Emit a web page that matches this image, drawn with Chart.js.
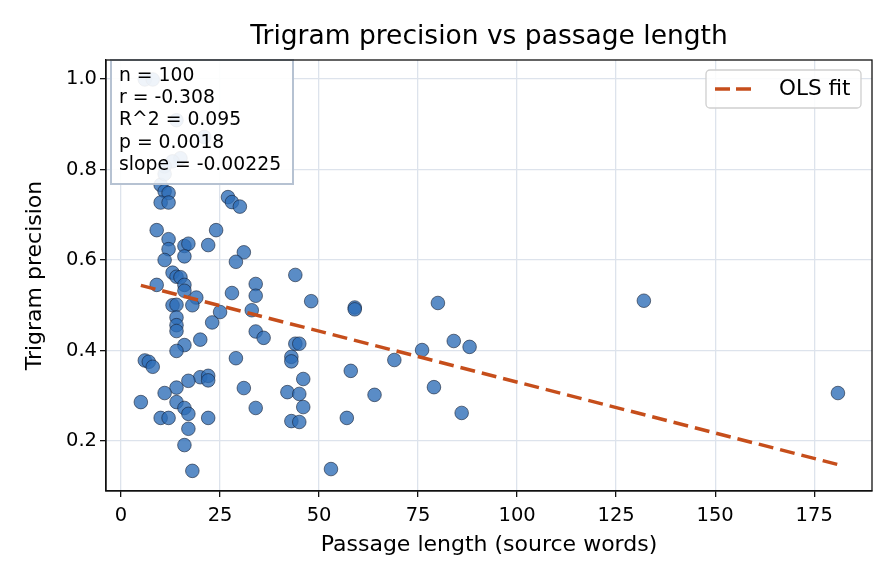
<!DOCTYPE html>
<html>
<head>
<meta charset="utf-8">
<script src="https://cdn.jsdelivr.net/npm/chart.js@4/dist/chart.umd.min.js"></script>
<style>
  html, body { margin: 0; padding: 0; background: #fff; }
  #wrap { width: 896px; height: 584px; }
</style>
</head>
<body>
<div id="wrap"><canvas id="chart" width="896" height="584"></canvas></div>
<script>
// Passage length (source words) for each passage
const lengths = [
  6, 8, 14, 21, 15, 13, 11, 10, 11, 12,
  10, 12, 27, 28, 30, 9, 12, 12, 16, 17,
  16, 22, 24, 11, 31, 29, 13, 14, 15, 9,
  16, 16, 19, 13, 14, 18, 25, 28, 34, 34,
  33, 44, 14, 14, 14, 23, 34, 36, 20, 16,
  14, 6, 7, 8, 29, 44, 45, 43, 43, 46,
  20, 22, 22, 17, 14, 11, 31, 5, 14, 16,
  17, 10, 12, 22, 17, 34, 42, 45, 46, 43,
  45, 16, 18, 48, 59, 59, 80, 58, 64, 57,
  53, 69, 76, 84, 88, 79, 86, 132, 181, 11
];

// Trigram precision for each passage
const precisions = [
  0.999, 0.999, 0.909, 0.872, 0.825, 0.818, 0.807, 0.766, 0.752, 0.748,
  0.727, 0.727, 0.739, 0.728, 0.718, 0.666, 0.646, 0.624, 0.631, 0.636,
  0.608, 0.633, 0.666, 0.600, 0.617, 0.596, 0.572, 0.563, 0.562, 0.545,
  0.545, 0.532, 0.517, 0.500, 0.501, 0.500, 0.485, 0.527, 0.547, 0.521,
  0.489, 0.567, 0.473, 0.456, 0.443, 0.462, 0.442, 0.428, 0.424, 0.412,
  0.399, 0.378, 0.375, 0.364, 0.383, 0.415, 0.415, 0.386, 0.376, 0.337,
  0.341, 0.344, 0.334, 0.333, 0.318, 0.306, 0.317, 0.286, 0.286, 0.273,
  0.260, 0.251, 0.251, 0.251, 0.227, 0.273, 0.308, 0.304, 0.275, 0.244,
  0.242, 0.191, 0.134, 0.509, 0.495, 0.491, 0.505, 0.355, 0.302, 0.251,
  0.138, 0.379, 0.401, 0.421, 0.408, 0.319, 0.262, 0.510, 0.306, 0.790
];

// OLS fit line end points
const fitX = [5, 181];
const fitY = [0.544, 0.148];

const xTicks = [0, 25, 50, 75, 100, 125, 150, 175];
const yTicks = [0.2, 0.4, 0.6, 0.8, 1.0];

const chartTitle = 'Trigram precision vs passage length';
const statLines = ['n = 100', 'r = -0.308', 'R^2 = 0.095', 'p = 0.0018', 'slope = -0.00225'];
const legendLabel = 'OLS fit';

const FONT = "'DejaVu Sans', sans-serif";
const fitColor = '#c64e1b';

const points = lengths.map((x, i) => ({ x: x, y: precisions[i] }));
const fitPoints = fitX.map((x, i) => ({ x: x, y: fitY[i] }));

// white background, title over the plot area, top/right spines
const framePlugin = {
  id: 'frame',
  beforeDraw(chart) {
    const ctx = chart.ctx;
    ctx.save();
    ctx.fillStyle = '#fff';
    ctx.fillRect(0, 0, chart.width, chart.height);
    ctx.restore();
  },
  afterDraw(chart) {
    const a = chart.chartArea;
    const ctx = chart.ctx;
    ctx.save();
    ctx.strokeStyle = '#111';
    ctx.lineWidth = 1.3;
    ctx.strokeRect(a.left, a.top, a.right - a.left, a.bottom - a.top);
    ctx.fillStyle = '#000';
    ctx.font = '26.5px ' + FONT;
    ctx.textAlign = 'center';
    ctx.textBaseline = 'middle';
    ctx.fillText(chartTitle, (a.left + a.right) / 2, 37);
    ctx.restore();
  }
};

// stats box and legend on top of the marks
const overlayPlugin = {
  id: 'overlay',
  afterDatasetsDraw(chart) {
    const ctx = chart.ctx;
    ctx.save();

    // stats box
    const bx = 111, by = 60, bw = 182, bh = 124;
    ctx.fillStyle = 'rgba(255,255,255,0.9)';
    ctx.fillRect(bx, by, bw, bh);
    ctx.strokeStyle = '#b6c2d2';
    ctx.lineWidth = 2;
    ctx.strokeRect(bx, by, bw, bh);
    ctx.fillStyle = '#000';
    ctx.font = '18.8px ' + FONT;
    ctx.textBaseline = 'middle';
    ctx.textAlign = 'left';
    statLines.forEach((t, i) => ctx.fillText(t, bx + 8, by + 16 + i * 22.3));

    // legend
    const lx = 706, ly = 70, lw = 155, lh = 38;
    ctx.beginPath();
    ctx.roundRect(lx, ly, lw, lh, 4);
    ctx.fillStyle = 'rgba(255,255,255,0.85)';
    ctx.fill();
    ctx.strokeStyle = '#cfcfcf';
    ctx.lineWidth = 1.3;
    ctx.stroke();
    ctx.beginPath();
    ctx.setLineDash([15, 6]);
    ctx.strokeStyle = fitColor;
    ctx.lineWidth = 3.5;
    ctx.moveTo(715, 89);
    ctx.lineTo(755, 89);
    ctx.stroke();
    ctx.setLineDash([]);
    ctx.fillStyle = '#000';
    ctx.font = '21.5px ' + FONT;
    ctx.fillText(legendLabel, 779, 89);

    ctx.restore();
  }
};

new Chart(document.getElementById('chart'), {
  data: {
    datasets: [
      {
        type: 'scatter',
        label: 'passages',
        data: points,
        order: 2,
        backgroundColor: 'rgba(44,107,182,0.78)',
        borderColor: 'rgba(20,30,50,0.85)',
        borderWidth: 0.7,
        pointRadius: 6.8,
        pointHoverRadius: 6.8
      },
      {
        type: 'line',
        label: legendLabel,
        data: fitPoints,
        order: 1,
        borderColor: fitColor,
        borderWidth: 3.5,
        borderDash: [15, 7],
        pointRadius: 0,
        fill: false
      }
    ]
  },
  options: {
    responsive: false,
    animation: false,
    layout: { padding: { left: 0, right: 24, top: 60, bottom: 0 } },
    plugins: {
      legend: { display: false },
      tooltip: { enabled: false },
      title: { display: false }
    },
    scales: {
      x: {
        type: 'linear',
        min: -3.8,
        max: 189.6,
        afterBuildTicks(scale) { scale.ticks = xTicks.map(v => ({ value: v })); },
        afterFit(scale) { scale.height = 93; },
        ticks: {
          color: '#000',
          font: { family: FONT, size: 19.5 },
          padding: 7,
          maxRotation: 0,
          callback: v => String(v)
        },
        grid: { color: '#dde3ec', lineWidth: 1.3, tickLength: 6, tickColor: '#111', tickWidth: 1.3 },
        border: { color: '#111', width: 1.3 },
        title: {
          display: true,
          text: 'Passage length (source words)',
          color: '#000',
          font: { family: FONT, size: 22 },
          padding: { top: 0, bottom: 26 }
        }
      },
      y: {
        type: 'linear',
        min: 0.0895,
        max: 1.042,
        afterBuildTicks(scale) { scale.ticks = yTicks.map(v => ({ value: v })); },
        afterFit(scale) { scale.width = 106; },
        ticks: {
          color: '#000',
          font: { family: FONT, size: 19.5 },
          padding: 3,
          callback: v => v.toFixed(1)
        },
        grid: { color: '#dde3ec', lineWidth: 1.3, tickLength: 6, tickColor: '#111', tickWidth: 1.3 },
        border: { color: '#111', width: 1.3 },
        title: {
          display: true,
          text: 'Trigram precision',
          color: '#000',
          font: { family: FONT, size: 22 },
          padding: { top: 22, bottom: 0 }
        }
      }
    }
  },
  plugins: [framePlugin, overlayPlugin]
});
</script>
</body>
</html>
